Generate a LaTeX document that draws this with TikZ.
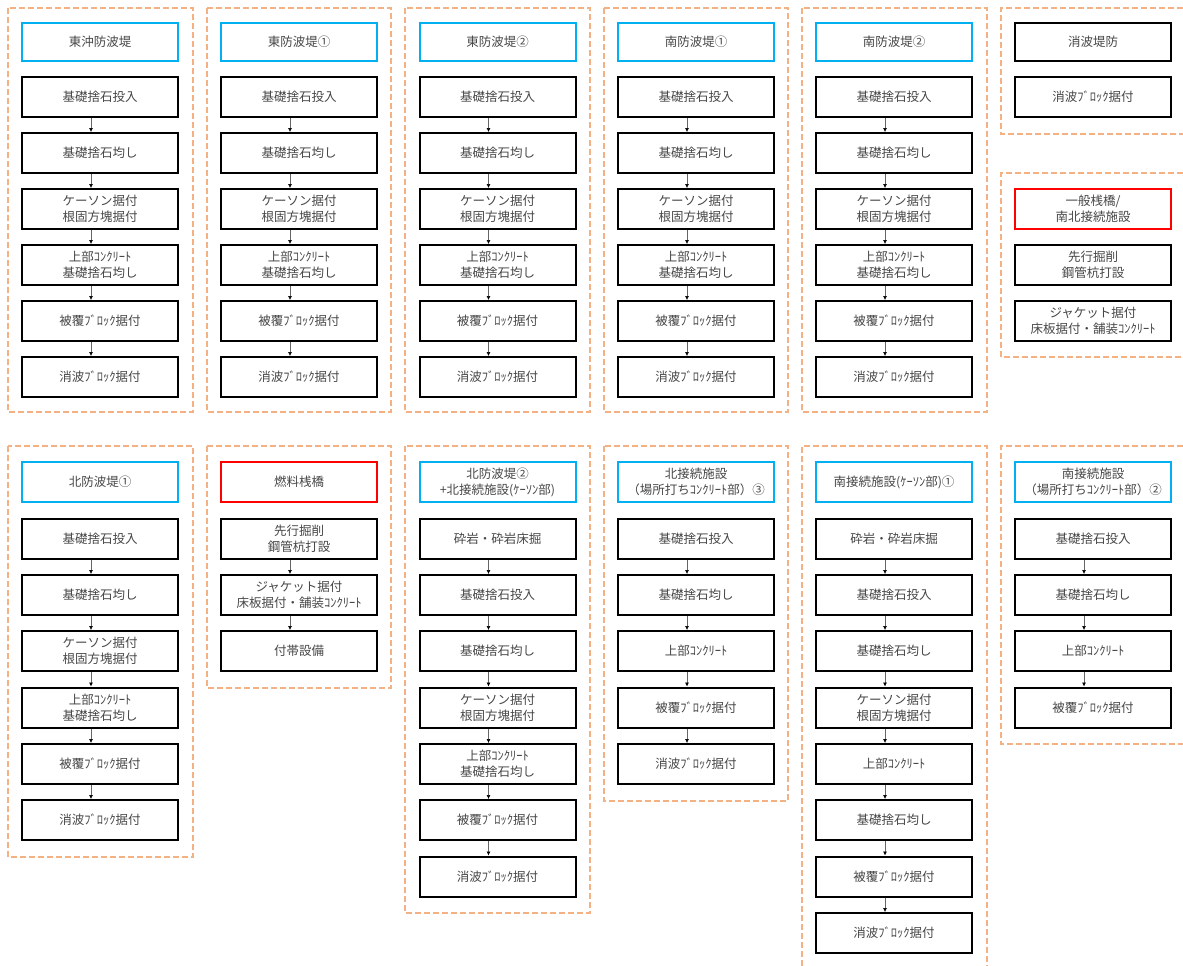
\documentclass[tikz,border=0pt]{standalone}
\usepackage{fontspec}
\setmainfont{Noto Sans CJK JP}
\usetikzlibrary{arrows.meta,calc}
\definecolor{frameorange}{RGB}{244,177,131}
\definecolor{hdrblue}{RGB}{0,176,240}
\definecolor{hdrred}{RGB}{255,0,0}
\definecolor{txtgray}{RGB}{70,70,70}
\tikzset{
  wbox/.style={draw=black, line width=2pt, minimum width=156pt, minimum height=40pt,
    inner sep=0pt, align=center, text=txtgray,
    font=\fontsize{12.5}{16}\selectfont},
  hblue/.style={wbox, draw=hdrblue},
  hred/.style={wbox, draw=hdrred},
  hblack/.style={wbox},
  frm/.style={draw=frameorange, line width=1.8pt, dash pattern=on 6pt off 3pt},
  arr/.style={draw=black!60, line width=0.6pt, -{Latex[length=4pt,width=4pt,black]}}
}
\newcommand{\arw}[2]{\draw[arr] ($(#1.south)+(-9,0)$) -- ($(#2.north)+(-9,0)$);}
\begin{document}
\begin{tikzpicture}[x=1pt,y=-1pt]
\useasboundingbox (0,0) rectangle (1183,966);
% ---------- frames ----------
\draw[frm] (8,8) rectangle (193,412);
\draw[frm] (207,8) rectangle (391,412);
\draw[frm] (405,8) rectangle (590,412);
\draw[frm] (604,8) rectangle (788,412);
\draw[frm] (802,8) rectangle (987,412);
\draw[frm] (1183,8) -- (1001,8) -- (1001,134) -- (1183,134);
\draw[frm] (1183,173) -- (1001,173) -- (1001,357) -- (1183,357);
\draw[frm] (8,446) rectangle (193,857);
\draw[frm] (207,446) rectangle (391,688);
\draw[frm] (405,446) rectangle (590,913);
\draw[frm] (604,446) rectangle (788,801);
\draw[frm] (802,966) -- (802,446) -- (987,446) -- (987,966);
\draw[frm] (1183,446) -- (1001,446) -- (1001,744) -- (1183,744);
% ---------- row 1 ----------
% col A
\node[hblue,minimum height=38pt] (a0) at (100,42) {東沖防波堤};
\node[wbox] (a1) at (100,97) {基礎捨石投入};
\node[wbox] (a2) at (100,153) {基礎捨石均し};
\node[wbox] (a3) at (100,209) {ケーソン据付\\根固方塊据付};
\node[wbox] (a4) at (100,265) {上部ｺﾝｸﾘｰﾄ\\基礎捨石均し};
\node[wbox] (a5) at (100,321) {被覆ﾌﾞﾛｯｸ据付};
\node[wbox] (a6) at (100,377) {消波ﾌﾞﾛｯｸ据付};
% col B
\node[hblue,minimum height=38pt] (b0) at (299,42) {東防波堤①};
\node[wbox] (b1) at (299,97) {基礎捨石投入};
\node[wbox] (b2) at (299,153) {基礎捨石均し};
\node[wbox] (b3) at (299,209) {ケーソン据付\\根固方塊据付};
\node[wbox] (b4) at (299,265) {上部ｺﾝｸﾘｰﾄ\\基礎捨石均し};
\node[wbox] (b5) at (299,321) {被覆ﾌﾞﾛｯｸ据付};
\node[wbox] (b6) at (299,377) {消波ﾌﾞﾛｯｸ据付};
% col C
\node[hblue,minimum height=38pt] (c0) at (497.5,42) {東防波堤②};
\node[wbox] (c1) at (497.5,97) {基礎捨石投入};
\node[wbox] (c2) at (497.5,153) {基礎捨石均し};
\node[wbox] (c3) at (497.5,209) {ケーソン据付\\根固方塊据付};
\node[wbox] (c4) at (497.5,265) {上部ｺﾝｸﾘｰﾄ\\基礎捨石均し};
\node[wbox] (c5) at (497.5,321) {被覆ﾌﾞﾛｯｸ据付};
\node[wbox] (c6) at (497.5,377) {消波ﾌﾞﾛｯｸ据付};
% col D
\node[hblue,minimum height=38pt] (d0) at (696,42) {南防波堤①};
\node[wbox] (d1) at (696,97) {基礎捨石投入};
\node[wbox] (d2) at (696,153) {基礎捨石均し};
\node[wbox] (d3) at (696,209) {ケーソン据付\\根固方塊据付};
\node[wbox] (d4) at (696,265) {上部ｺﾝｸﾘｰﾄ\\基礎捨石均し};
\node[wbox] (d5) at (696,321) {被覆ﾌﾞﾛｯｸ据付};
\node[wbox] (d6) at (696,377) {消波ﾌﾞﾛｯｸ据付};
% col E
\node[hblue,minimum height=38pt] (e0) at (894,42) {南防波堤②};
\node[wbox] (e1) at (894,97) {基礎捨石投入};
\node[wbox] (e2) at (894,153) {基礎捨石均し};
\node[wbox] (e3) at (894,209) {ケーソン据付\\根固方塊据付};
\node[wbox] (e4) at (894,265) {上部ｺﾝｸﾘｰﾄ\\基礎捨石均し};
\node[wbox] (e5) at (894,321) {被覆ﾌﾞﾛｯｸ据付};
\node[wbox] (e6) at (894,377) {消波ﾌﾞﾛｯｸ据付};
% col F
\node[hblack,minimum height=38pt] (f0) at (1093,42) {消波堤防};
\node[wbox] (f1) at (1093,97) {消波ﾌﾞﾛｯｸ据付};
\node[hred] (g0) at (1093,209) {一般桟橋/\\南北接続施設};
\node[wbox] (g1) at (1093,265) {先行掘削\\鋼管杭打設};
\node[wbox] (g2) at (1093,321) {ジャケット据付\\床板据付・舗装ｺﾝｸﾘｰﾄ};
% arrows row 1
\foreach \c in {a,b,c,d,e}{
  \arw{\c1}{\c2}\arw{\c2}{\c3}\arw{\c3}{\c4}\arw{\c4}{\c5}\arw{\c5}{\c6}
}
% ---------- row 2 ----------
% col A
\node[hblue] (h0) at (100,482) {北防波堤①};
\node[wbox] (h1) at (100,538.5) {基礎捨石投入};
\node[wbox] (h2) at (100,595) {基礎捨石均し};
\node[wbox] (h3) at (100,651) {ケーソン据付\\根固方塊据付};
\node[wbox] (h4) at (100,707.5) {上部ｺﾝｸﾘｰﾄ\\基礎捨石均し};
\node[wbox] (h5) at (100,764) {被覆ﾌﾞﾛｯｸ据付};
\node[wbox] (h6) at (100,820) {消波ﾌﾞﾛｯｸ据付};
\arw{h1}{h2}\arw{h2}{h3}\arw{h3}{h4}\arw{h4}{h5}\arw{h5}{h6}
% col B
\node[hred] (i0) at (299,482) {燃料桟橋};
\node[wbox] (i1) at (299,538.5) {先行掘削\\鋼管杭打設};
\node[wbox] (i2) at (299,595) {ジャケット据付\\床板据付・舗装ｺﾝｸﾘｰﾄ};
\node[wbox] (i3) at (299,651) {付帯設備};
\arw{i1}{i2}\arw{i2}{i3}
% col C
\node[hblue] (j0) at (497.5,482) {北防波堤②\\+北接続施設(ｹｰｿﾝ部)};
\node[wbox] (j1) at (497.5,538.5) {砕岩・砕岩床掘};
\node[wbox] (j2) at (497.5,595) {基礎捨石投入};
\node[wbox] (j3) at (497.5,651) {基礎捨石均し};
\node[wbox] (j4) at (497.5,707.5) {ケーソン据付\\根固方塊据付};
\node[wbox] (j5) at (497.5,764) {上部ｺﾝｸﾘｰﾄ\\基礎捨石均し};
\node[wbox] (j6) at (497.5,820) {被覆ﾌﾞﾛｯｸ据付};
\node[wbox] (j7) at (497.5,876.5) {消波ﾌﾞﾛｯｸ据付};
\arw{j1}{j2}\arw{j2}{j3}\arw{j3}{j4}\arw{j4}{j5}\arw{j5}{j6}\arw{j6}{j7}
% col D
\node[hblue] (k0) at (696,482) {北接続施設\\（場所打ちｺﾝｸﾘｰﾄ部）③};
\node[wbox] (k1) at (696,538.5) {基礎捨石投入};
\node[wbox] (k2) at (696,595) {基礎捨石均し};
\node[wbox] (k3) at (696,651) {上部ｺﾝｸﾘｰﾄ};
\node[wbox] (k4) at (696,707.5) {被覆ﾌﾞﾛｯｸ据付};
\node[wbox] (k5) at (696,764) {消波ﾌﾞﾛｯｸ据付};
\arw{k1}{k2}\arw{k2}{k3}\arw{k3}{k4}\arw{k4}{k5}
% col E
\node[hblue] (l0) at (894,482) {南接続施設(ｹｰｿﾝ部)①};
\node[wbox] (l1) at (894,538.5) {砕岩・砕岩床掘};
\node[wbox] (l2) at (894,595) {基礎捨石投入};
\node[wbox] (l3) at (894,651) {基礎捨石均し};
\node[wbox] (l4) at (894,707.5) {ケーソン据付\\根固方塊据付};
\node[wbox] (l5) at (894,764) {上部ｺﾝｸﾘｰﾄ};
\node[wbox] (l6) at (894,820) {基礎捨石均し};
\node[wbox] (l7) at (894,876.5) {被覆ﾌﾞﾛｯｸ据付};
\node[wbox] (l8) at (894,933) {消波ﾌﾞﾛｯｸ据付};
\arw{l1}{l2}\arw{l2}{l3}\arw{l3}{l4}\arw{l4}{l5}\arw{l5}{l6}\arw{l6}{l7}\arw{l7}{l8}
% col F
\node[hblue] (m0) at (1093,482) {南接続施設\\（場所打ちｺﾝｸﾘｰﾄ部）②};
\node[wbox] (m1) at (1093,538.5) {基礎捨石投入};
\node[wbox] (m2) at (1093,595) {基礎捨石均し};
\node[wbox] (m3) at (1093,651) {上部ｺﾝｸﾘｰﾄ};
\node[wbox] (m4) at (1093,707.5) {被覆ﾌﾞﾛｯｸ据付};
\arw{m1}{m2}\arw{m2}{m3}\arw{m3}{m4}
\end{tikzpicture}
\end{document}
